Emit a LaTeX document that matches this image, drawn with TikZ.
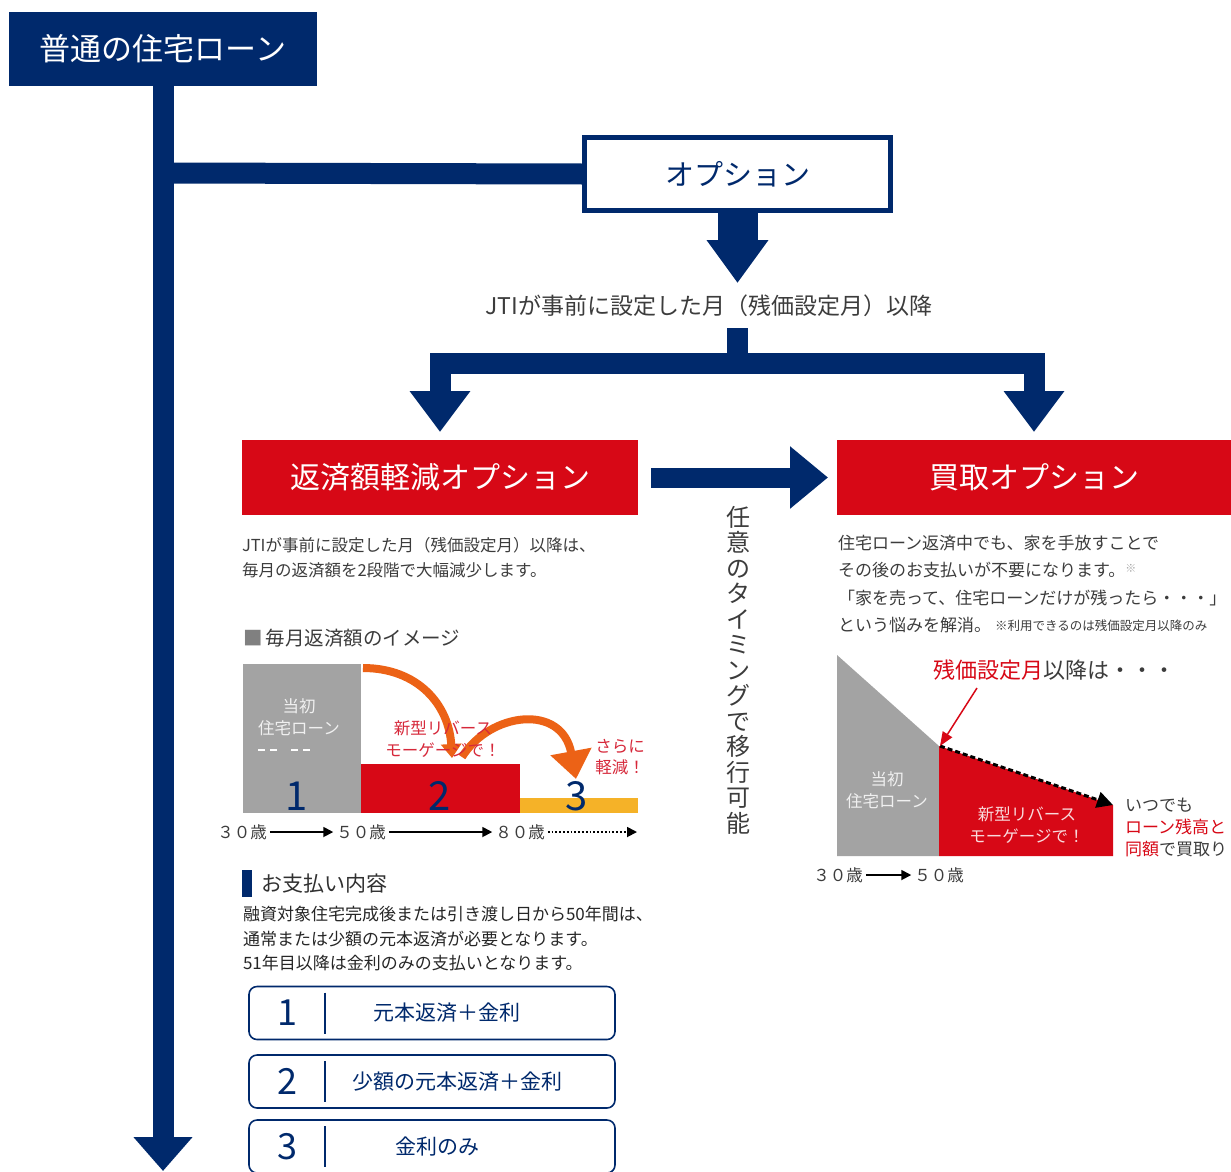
\documentclass[tikz,border=0pt]{standalone}
\usepackage{fontspec}
\setmainfont{Noto Sans CJK JP}
\usetikzlibrary{arrows.meta}
\definecolor{jtinavy}{RGB}{0,41,108}
\definecolor{jtired}{RGB}{215,8,22}
\definecolor{txtgray}{RGB}{60,60,60}
\definecolor{chartgray}{RGB}{163,163,163}
\definecolor{arrorange}{RGB}{236,98,22}
\definecolor{baryellow}{RGB}{245,178,40}
\definecolor{pinkred}{RGB}{214,40,58}

\begin{document}
\begin{tikzpicture}[x=1pt, y=-1pt,
  every node/.style={inner sep=0pt, outer sep=0pt},
  headbox/.style={fill=jtinavy, text=white, minimum width=308, minimum height=74, font=\fontsize{31}{31}\selectfont},
  optbox/.style={draw=jtinavy, line width=5, fill=white, text=jtinavy, minimum width=306, minimum height=73, font=\fontsize{29}{29}\selectfont},
  redbox/.style={fill=jtired, text=white, minimum height=75, font=\fontsize{30}{30}\selectfont},
  navybar/.style={draw=jtinavy, line width=21, line join=miter},
  navyarrow/.style={navybar, -{Triangle[width=58pt,length=41pt]}},
  linetext/.style={anchor=west, text=txtgray, font=\fontsize{16.5}{16.5}\selectfont},
  charttext/.style={align=center, font=\fontsize{16.5}{21.5}\selectfont},
  bignum/.style={text=jtinavy, font=\fontsize{40}{40}\selectfont},
  axislabel/.style={text=txtgray, font=\fontsize{16.5}{16.5}\selectfont},
  axisarrow/.style={draw=black, line width=1.8, -{Triangle[width=10pt,length=10pt]}},
  orangearrow/.style={draw=arrorange, line width=8},
  paybox/.style={draw=jtinavy, line width=1.6, rounded corners=8, minimum width=366, minimum height=53},
  paytext/.style={text=jtinavy, font=\fontsize{21}{21}\selectfont},
  paynum/.style={text=jtinavy, font=\fontsize{36}{36}\selectfont}]
\useasboundingbox (0,0) rectangle (1231,1171);

% main flow
\node[headbox] (head) at (163,49) {普通の住宅ローン};
\coordinate (trunkend) at (163,1171);
\coordinate (branch) at (163,173);
\draw[navybar, -{Triangle[width=57pt,length=34pt]}] (head.south) -- (trunkend);
\node[optbox] (opt) at (737.5,174) {オプション};
\draw[navybar] (branch) -- (opt.west);
\coordinate (optend) at (737.5,283);
\draw[draw=jtinavy, line width=40, -{Triangle[width=59pt,length=43pt]}] (opt.south) -- (optend);
\node[text=txtgray, font=\fontsize{23}{23}\selectfont] (jti) at (709,306) {JTIが事前に設定した月（残価設定月）以降};

\node[redbox, minimum width=396] (redL) at (440,477.5) {返済額軽減オプション};
\node[redbox, minimum width=394] (redR) at (1034,477.5) {買取オプション};
\coordinate (forktop) at (737,328);
\coordinate (fork) at (737,363);
\draw[navybar] (forktop) -- (fork);
\draw[navybar, -{Triangle[width=58pt,length=41pt]}, shorten >=8pt] (fork) -| (redL.north);
\draw[navybar, -{Triangle[width=58pt,length=41pt]}, shorten >=8pt] (fork) -| (redR.north);
\draw[draw=jtinavy, line width=20, -{Triangle[width=60pt,length=38pt]}, shorten <=13pt, shorten >=9pt] (redL.east) -- (redR.west);
\node[align=center, text=txtgray, font=\fontsize{24}{25.5}\selectfont] (anytime) at (738,670)
  {任\\意\\の\\タ\\イ\\ミ\\ン\\グ\\で\\移\\行\\可\\能};

% left option
\node[linetext] (descL1) at (242,545) {JTIが事前に設定した月（残価設定月）以降は、};
\node[linetext] (descL2) at (242,570) {毎月の返済額を2段階で大幅減少します。};
\node[anchor=west, text=txtgray, font=\fontsize{19.5}{19.5}\selectfont] (imgtitle) at (243,638) {{\color{gray}■}\,毎月返済額のイメージ};

\fill[chartgray] (243,664) rectangle (361,813);
\fill[jtired] (361,764) rectangle (520,813);
\fill[baryellow] (520,798) rectangle (638,813);
\draw[white, line width=1.2, dash pattern=on 7pt off 5pt on 7pt off 14pt] (258,750) -- (314,750);
\node[charttext, text=white!88!gray] (initL) at (299,717) {当初\\住宅ローン};
\node[bignum] (num1) at (297,796) {1};
\node[bignum] (num2) at (440,796) {2};
\node[bignum] (num3) at (577,796) {3};
\draw[orangearrow, -{Triangle[width=20pt,length=14pt]}] (363,668) .. controls (418,668) and (449,705) .. (452,758);
\draw[orangearrow, -{Triangle[width=40pt,length=28pt]}] (462,757) .. controls (490,712) and (562,703) .. (576,779);
\node[charttext, text=pinkred] (newL) at (443,739) {新型リバース\\モーゲージで！};
\node[charttext, text=pinkred] (moreL) at (620,757) {さらに\\軽減！};

\node[axislabel] (ax30L) at (242,832) {３０歳};
\node[axislabel] (ax50L) at (361,832) {５０歳};
\node[axislabel] (ax80L) at (520,832) {８０歳};
\coordinate (axendL) at (637,832);
\draw[axisarrow, shorten <=3pt, shorten >=3pt] (ax30L.east) -- (ax50L.west);
\draw[axisarrow, shorten <=3pt, shorten >=3pt] (ax50L.east) -- (ax80L.west);
\draw[axisarrow, dotted, shorten <=3pt] (ax80L.east) -- (axendL);

% payment details
\fill[jtinavy] (242,870) rectangle (252,897);
\node[anchor=west, text=txtgray!80!black, font=\fontsize{21}{21}\selectfont] (paytitle) at (261,884) {お支払い内容};
\node[linetext, text=black!85, font=\fontsize{17}{17}\selectfont] (payL1) at (243,914) {融資対象住宅完成後または引き渡し日から50年間は、};
\node[linetext, text=black!85, font=\fontsize{17}{17}\selectfont] (payL2) at (243,939) {通常または少額の元本返済が必要となります。};
\node[linetext, text=black!85, font=\fontsize{17}{17}\selectfont] (payL3) at (243,963) {51年目以降は金利のみの支払いとなります。};

\node[paybox] (pay1) at (432,1013) {};
\node[paybox] (pay2) at (432,1081.5) {};
\node[paybox] (pay3) at (432,1146.5) {};
\foreach \i/\t/\x in {1/元本返済＋金利/447, 2/少額の元本返済＋金利/457, 3/金利のみ/437} {
  \node[paynum] (paynum\i) at (287,0 |- pay\i) {\i};
  \node[paytext] (paytext\i) at (\x,0 |- pay\i) {\t};
  \draw[jtinavy, line width=2.4] ([yshift=-6pt]pay\i.north -| 325,0) -- ([yshift=6pt]pay\i.south -| 325,0);
}

% right option
\node[linetext, font=\fontsize{17}{17}\selectfont] (descR1) at (838,543) {住宅ローン返済中でも、家を手放すことで};
\node[linetext, font=\fontsize{17}{17}\selectfont] (descR2) at (838,570) {その後のお支払いが不要になります。\raisebox{4pt}{\color{gray!70}\fontsize{11}{11}\selectfont ※}};
\node[linetext, font=\fontsize{17}{17}\selectfont] (descR3) at (838,598) {「家を売って、住宅ローンだけが残ったら・・・」};
\node[linetext, font=\fontsize{17}{17}\selectfont] (descR4) at (838,625) {という悩みを解消。};
\node[linetext, font=\fontsize{12.5}{12.5}\selectfont] (noteR) at (995,626) {※利用できるのは残価設定月以降のみ};

\fill[chartgray] (837,655) -- (939,746) -- (939,856) -- (837,856) -- cycle;
\fill[jtired] (939,746) -- (1113,805) -- (1113,856) -- (939,856) -- cycle;
\coordinate (switch) at (940,746);
\coordinate (dashend) at (1113,805);
\draw[black, line width=3, dash pattern=on 5pt off 3pt, -{Triangle[width=16pt,length=16pt]}] (switch) -- (dashend);
\node[anchor=west, text=txtgray, font=\fontsize{22}{22}\selectfont] (afterR) at (933,670) {{\color{jtired}残価設定月}以降は・・・};
\draw[jtired, line width=1.5, -{Triangle[width=11pt,length=14pt]}] (977,688) -- (switch);
\node[charttext, text=white!88!gray] (initR) at (887,790) {当初\\住宅ローン};
\node[charttext, text=white!85!jtired] (newR) at (1027,825) {新型リバース\\モーゲージで！};
\node[anchor=west, text=txtgray, font=\fontsize{17}{17}\selectfont] (buyR1) at (1125,805) {いつでも};
\node[anchor=west, text=jtired, font=\fontsize{17}{17}\selectfont] (buyR2) at (1125,827) {ローン残高と};
\node[anchor=west, text=txtgray, font=\fontsize{17}{17}\selectfont] (buyR3) at (1125,849) {{\color{jtired}同額}で買取り};
\node[axislabel] (ax30R) at (838,875) {３０歳};
\node[axislabel] (ax50R) at (939,875) {５０歳};
\draw[axisarrow, shorten <=3pt, shorten >=3pt] (ax30R.east) -- (ax50R.west);
\end{tikzpicture}
\end{document}
